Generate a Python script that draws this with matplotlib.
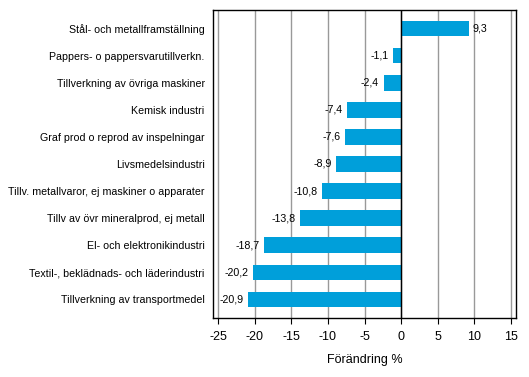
import matplotlib.pyplot as plt
import numpy as np

plt.rcParams['font.family'] = ['Liberation Sans', 'DejaVu Sans']

categories = [
    "Stål- och metallframställning",
    "Pappers- o pappersvarutillverkn.",
    "Tillverkning av övriga maskiner",
    "Kemisk industri",
    "Graf prod o reprod av inspelningar",
    "Livsmedelsindustri",
    "Tillv. metallvaror, ej maskiner o apparater",
    "Tillv av övr mineralprod, ej metall",
    "El- och elektronikindustri",
    "Textil-, beklädnads- och läderindustri",
    "Tillverkning av transportmedel",
]
values = [9.3, -1.1, -2.4, -7.4, -7.6, -8.9, -10.8, -13.8, -18.7, -20.2, -20.9]
ticks = [-25, -20, -15, -10, -5, 0, 5, 10, 15]

fig = plt.figure(figsize=(5.29, 3.77), dpi=100)
ax = fig.add_axes([213/529, 1-318/377, (516-213)/529, (318-10)/377])

y = np.arange(len(categories))
ax.barh(y, values, height=0.56, color='#009FDA', zorder=3)
for yi, v in zip(y, values):
    lab = f"{v:.1f}".replace('.', ',')
    if v >= 0:
        ax.text(v + 0.5, yi, lab, va='center', ha='left', fontsize=7.7, zorder=4)
    else:
        ax.text(v - 0.6, yi, lab, va='center', ha='right', fontsize=7.7, zorder=4)

ax.axvline(0, color='black', lw=1, zorder=4)
ax.set_xlim(-25.7, 15.7)
ax.set_ylim(len(categories) - 0.3, -0.7)
ax.set_xticks(ticks)
ax.set_xticklabels([str(t) for t in ticks], fontsize=9)
ax.set_yticks(y)
ax.set_yticklabels(categories, fontsize=7.65)
ax.tick_params(axis='y', length=0, pad=6)
ax.tick_params(axis='x', length=4, direction='out', pad=5)
ax.grid(axis='x', color='#999999', lw=1, zorder=0)
for s in ax.spines.values():
    s.set_color('black')
    s.set_linewidth(1)
ax.set_xlabel("Förändring %", fontsize=9, labelpad=8)

fig.savefig("out.png", dpi=100)
